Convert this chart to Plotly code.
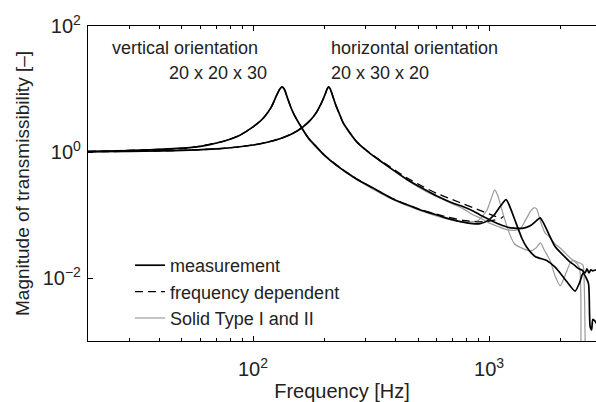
import plotly.graph_objects as go

# ---------------- data ----------------
# vertical orientation 20 x 20 x 30 - measurement
f_vert_meas = [20, 30, 40, 54, 65, 75, 88, 100, 111, 120, 126, 130, 133, 136, 140, 145, 150, 161, 172, 186,
               200, 225, 250, 275, 300, 340, 392, 450, 520, 563, 650, 776, 850, 916, 980, 1050, 1120, 1181,
               1230, 1300, 1380, 1442, 1567, 1754, 1900, 2000, 2150, 2315, 2420, 2500, 2580, 2640, 2680,
               2720, 2750, 2800, 2850]
T_vert_meas = [1.02, 1.05, 1.10, 1.17, 1.30, 1.48, 1.85, 2.5, 3.5, 5.3, 8.0, 10.0, 10.8, 9.8, 7.2, 5.0, 3.8, 2.4,
               1.65, 1.2, 0.9, 0.62, 0.47, 0.37, 0.31, 0.24, 0.18, 0.145, 0.118, 0.108, 0.091, 0.077, 0.073,
               0.073, 0.080, 0.10, 0.14, 0.175, 0.13, 0.075, 0.042, 0.031, 0.022, 0.019, 0.015, 0.012, 0.0085,
               0.0062, 0.0085, 0.012, 0.010, 0.008, 0.0017, 0.0015, 0.0022, 0.0021, 0.0019]

# horizontal orientation 20 x 30 x 20 - measurement
f_hor_meas = [20, 30, 40, 54, 70, 88, 100, 115, 130, 143.6, 155, 163, 175, 186, 195, 202, 206, 209, 212, 217,
              224, 233, 241, 255, 275, 300, 324, 350, 381, 448, 527, 601, 700, 778, 859, 916, 1000, 1100, 1200,
              1275, 1400, 1500, 1580, 1645, 1700, 1800, 1900, 2060, 2200, 2300, 2400, 2475, 2550, 2600,
              2650, 2700, 2750, 2850]
T_hor_meas = [1.01, 1.02, 1.04, 1.07, 1.12, 1.21, 1.29, 1.43, 1.62, 1.88, 2.2, 2.5, 3.2, 4.3, 6.0, 8.2, 10.0,
              10.7, 10.2, 8.0, 5.6, 3.9, 2.9, 2.1, 1.45, 1.08, 0.86, 0.70, 0.56, 0.37, 0.26, 0.20, 0.155, 0.135,
              0.115, 0.10, 0.085, 0.072, 0.064, 0.062, 0.062, 0.068, 0.080, 0.090, 0.075, 0.048, 0.032,
              0.023, 0.018, 0.016, 0.014, 0.0134, 0.012, 0.014, 0.012, 0.0135, 0.013, 0.0135]

# frequency dependent model
f_vert_fd = [20, 40, 54, 75, 88, 100, 111, 120, 126, 130, 133, 136, 140, 145, 150, 161, 172, 186, 200, 250,
             300, 392, 520, 650, 776, 900, 1000, 1080]
T_vert_fd = [1.02, 1.10, 1.17, 1.48, 1.85, 2.5, 3.5, 5.3, 8.0, 10.0, 10.9, 9.9, 7.2, 5.0, 3.8, 2.4, 1.65, 1.2,
             0.9, 0.47, 0.31, 0.18, 0.12, 0.095, 0.082, 0.078, 0.080, 0.085]
f_hor_fd = [20, 40, 70, 100, 130, 155, 175, 186, 195, 202, 206, 209, 212, 217, 224, 233, 241, 255, 275, 300,
            324, 350, 381, 448, 527, 601, 700, 778, 859, 950, 1050, 1120, 1150]
T_hor_fd = [1.01, 1.04, 1.12, 1.29, 1.62, 2.2, 3.2, 4.3, 6.0, 8.2, 10.0, 10.8, 10.2, 8.0, 5.6, 3.9, 2.9, 2.1,
            1.45, 1.09, 0.88, 0.72, 0.58, 0.39, 0.28, 0.22, 0.175, 0.15, 0.13, 0.112, 0.097, 0.088, 0.095]

# Solid Type I and II model
f_vert_sol = [20, 40, 54, 75, 88, 100, 111, 120, 126, 129, 132, 135, 139, 145, 150, 161, 172, 186, 200, 250,
              300, 392, 520, 650, 776, 900, 980, 1020, 1057, 1090, 1150, 1210, 1280, 1400, 1500, 1580, 1650,
              1720, 1814, 1900, 2000, 2100, 2200, 2275, 2400, 2500, 2530, 2555]
T_vert_sol = [1.02, 1.10, 1.17, 1.48, 1.85, 2.5, 3.5, 5.3, 8.0, 9.8, 10.7, 10.0, 7.4, 5.0, 3.7, 2.35, 1.6, 1.15,
              0.88, 0.46, 0.30, 0.175, 0.115, 0.088, 0.078, 0.082, 0.12, 0.18, 0.25, 0.20, 0.10, 0.055, 0.035,
              0.029, 0.027, 0.030, 0.036, 0.027, 0.019, 0.011, 0.0075, 0.011, 0.017, 0.019, 0.0175, 0.016,
              0.008, 0.0008]
f_hor_sol = [20, 40, 70, 100, 130, 155, 175, 186, 195, 202, 206, 209, 212, 217, 224, 233, 241, 255, 275, 300,
             324, 350, 381, 448, 527, 601, 700, 778, 859, 916, 1000, 1100, 1200, 1275, 1353, 1420, 1500, 1550,
             1590, 1650, 1727, 1800, 1900, 2000, 2100, 2200, 2355, 2420, 2450]
T_hor_sol = [1.01, 1.04, 1.12, 1.29, 1.62, 2.2, 3.2, 4.3, 6.0, 8.2, 10.0, 10.9, 10.3, 8.1, 5.7, 4.0, 2.95, 2.15,
             1.47, 1.08, 0.86, 0.70, 0.55, 0.36, 0.25, 0.195, 0.15, 0.125, 0.10, 0.09, 0.075, 0.065, 0.058,
             0.057, 0.060, 0.080, 0.115, 0.13, 0.125, 0.08, 0.052, 0.045, 0.035, 0.030, 0.025, 0.021, 0.017,
             0.014, 0.0009]

x_tick_vals = [100, 1000]
x_tick_text = ["10<sup>2</sup>", "10<sup>3</sup>"]
x_minor_vals = [30, 40, 50, 60, 70, 80, 90, 200, 300, 400, 500, 600, 700, 800, 900, 2000]
y_tick_vals = [1e-2, 1, 1e2]
y_tick_text = ["10<sup>\u22122</sup>", "10<sup>0</sup>", "10<sup>2</sup>"]

legend_names = ["measurement", "frequency dependent", "Solid Type I and II"]

# ---------------- figure ----------------
FONT = "Liberation Sans, Arial, Helvetica, sans-serif"
GREY = "#9a9a9a"
TXT = "#222"

fig = go.Figure()

def add(f, T, color, width, dash, name, show, rank):
    fig.add_trace(go.Scatter(
        x=f, y=T, mode="lines", name=name, showlegend=show,
        legendgroup=name, legendrank=rank,
        line=dict(color=color, width=width, dash=dash, shape="spline", smoothing=0.6),
    ))

add(f_vert_sol, T_vert_sol, GREY, 1.2, "solid", legend_names[2], True, 3)
add(f_hor_sol, T_hor_sol, GREY, 1.2, "solid", legend_names[2], False, 3)
add(f_vert_fd, T_vert_fd, "black", 1.3, "8px,5px", legend_names[1], True, 2)
add(f_hor_fd, T_hor_fd, "black", 1.3, "8px,5px", legend_names[1], False, 2)
add(f_vert_meas, T_vert_meas, "black", 1.7, "solid", legend_names[0], True, 1)
add(f_hor_meas, T_hor_meas, "black", 1.7, "solid", legend_names[0], False, 1)

annots = [
    dict(x=110, y=48, text="vertical orientation"),
    dict(x=167, y=73, text="20 x 20 x 30"),
    dict(x=329, y=48, text="horizontal orientation"),
    dict(x=329, y=73, text="20 x 30 x 20"),
]
W, H = 596, 402
L, R, T_, B = 88, 0, 26, 61
PW, PH = W - L - R, H - T_ - B
for a in annots:
    fig.add_annotation(
        x=(a["x"] - L) / PW, y=1 - (a["y"] - T_) / PH,
        xref="paper", yref="paper", xanchor="left", yanchor="middle",
        text=a["text"], showarrow=False, font=dict(family=FONT, size=18, color=TXT),
    )

fig.update_layout(
    width=W, height=H,
    margin=dict(l=L, r=R, t=T_, b=B, pad=0),
    paper_bgcolor="white", plot_bgcolor="white",
    font=dict(family=FONT, size=18, color=TXT),
    showlegend=True,
    legend=dict(
        x=(130 - L) / PW, y=1 - (247 - T_) / PH,
        xanchor="left", yanchor="top", bgcolor="rgba(0,0,0,0)",
        font=dict(family=FONT, size=18, color=TXT),
        tracegroupgap=0, itemwidth=30,
    ),
    xaxis=dict(
        type="log", range=[1.301, 3.453],
        tickvals=x_tick_vals, ticktext=x_tick_text,
        ticks="inside", ticklen=5, tickcolor="black", tickwidth=1,
        minor=dict(tickvals=x_minor_vals, ticks="inside", ticklen=3, tickcolor="black", tickwidth=1),
        showline=True, linecolor="black", linewidth=1.2, mirror="ticks",
        showgrid=False, zeroline=False, ticklabelstandoff=10,
        tickfont=dict(family=FONT, size=20, color=TXT),
        title=dict(text="Frequency [Hz]", font=dict(family=FONT, size=20, color=TXT), standoff=5),
    ),
    yaxis=dict(
        type="log", range=[-3, 2],
        tickvals=y_tick_vals, ticktext=y_tick_text,
        ticks="inside", ticklen=5, tickcolor="black", tickwidth=1,
        showline=True, linecolor="black", linewidth=1.2, mirror=False,
        showgrid=False, zeroline=False, ticklabelstandoff=2,
        tickfont=dict(family=FONT, size=20, color=TXT),
        title=dict(text="Magnitude of transmissibility [\u2013]", font=dict(family=FONT, size=19, color=TXT), standoff=8),
    ),
)

fig.write_html(
    "out.html",
    config={"displayModeBar": False},
    post_script="document.body.style.margin='0';document.body.style.overflow='hidden';",
)
